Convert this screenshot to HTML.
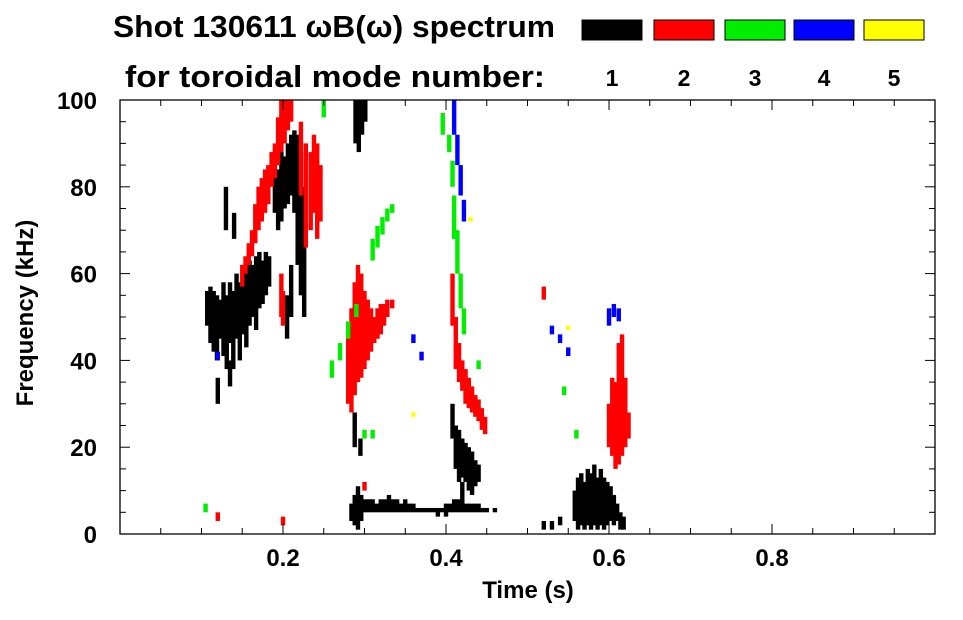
<!DOCTYPE html>
<html><head><meta charset="utf-8"><style>
body{margin:0;background:#fff;}
svg text{font-family:"Liberation Sans",sans-serif;font-weight:bold;fill:#000;}
</style></head><body>
<svg id="chart" width="963" height="615" viewBox="0 0 963 615" xmlns="http://www.w3.org/2000/svg">
<text x="113" y="37" font-size="31" textLength="442" lengthAdjust="spacingAndGlyphs">Shot 130611 ωB(ω) spectrum</text>
<text x="125" y="87" font-size="31" textLength="420" lengthAdjust="spacingAndGlyphs">for toroidal mode number:</text>
<g id="legend"></g>
<g id="marks"></g>
<g id="axes"></g>
<text x="528" y="598" font-size="24" text-anchor="middle">Time (s)</text>
<text transform="translate(33,313) rotate(-90)" font-size="24" text-anchor="middle">Frequency (kHz)</text>
</svg>
<script>
const modeLabels = ["1","2","3","4","5"];
const modeColors = ["#000000","#ff0000","#00ee00","#0000ff","#ffff00"];
const xTicks = [0.2,0.4,0.6,0.8];
const yTicks = [0,20,40,60,80,100];
// segments per mode: [time, fLow, fHigh]
const mode1 = [[0.107,48,56],[0.111,44,57],[0.115,42,56],[0.119,40,55],[0.123,45,54],[0.127,41,58],[0.131,38,55],[0.135,44,58],[0.139,38,56],[0.143,45,60],[0.147,40,58],[0.151,46,62],[0.155,43,60],[0.159,48,63],[0.163,50,62],[0.167,47,64],[0.171,52,65],[0.175,53,63],[0.179,55,65],[0.183,57,64],
[0.12,30,36],[0.13,70,80],[0.14,68,74],[0.135,40,34],
[0.19,74,86],[0.194,70,84],[0.198,72,88],[0.202,75,87],[0.206,76,90],[0.21,78,92],[0.214,74,93],[0.218,62,92],[0.222,55,88],[0.226,50,80],[0.205,45,55],[0.21,50,62],
[0.289,90,100],[0.293,88,100],[0.297,92,100],[0.301,95,100],
[0.284,3,7],[0.288,2,9],[0.292,1,11],[0.296,3,9],[0.3,5,8],[0.305,5,8],[0.31,5,8],[0.315,5,7],[0.32,5,8],[0.325,5,8],[0.33,5,9],[0.335,5,8],[0.34,5,8],[0.345,5,7],[0.35,5,8],[0.355,5,7],[0.36,5,7],[0.365,5,6],[0.37,5,6],[0.375,5,6],[0.38,5,6],[0.385,5,6],[0.39,4,6],[0.395,5,6],[0.40,4,7],[0.405,5,7],[0.41,5,8],[0.415,5,8],[0.42,5,8],[0.425,5,7],[0.43,5,7],[0.435,5,7],[0.44,5,7],[0.445,5,6],[0.45,5,6],[0.46,5,6],
[0.288,20,28],[0.295,18,22],
[0.408,22,30],[0.412,15,25],[0.416,12,24],[0.42,13,22],[0.424,12,21],[0.428,10,20],[0.432,9,19],[0.436,11,17],[0.44,12,16],[0.42,6,12],
[0.558,3,10],[0.562,1,13],[0.566,2,14],[0.57,1,12],[0.574,2,15],[0.578,1,14],[0.582,2,16],[0.586,1,13],[0.59,2,15],[0.594,1,13],[0.598,2,12],[0.602,3,11],[0.606,2,9],[0.61,3,7],[0.614,1,5],[0.618,1,4],
[0.52,1,3],[0.53,1,3],[0.54,2,4]];
const mode2 = [[0.15,57,62],[0.154,60,64],[0.158,62,67],[0.162,64,70],[0.166,67,76],[0.17,70,80],[0.174,72,82],[0.178,74,84],[0.182,76,85],[0.186,80,88],[0.19,82,90],[0.194,85,96],[0.198,88,100],[0.202,90,100],[0.206,93,100],[0.21,95,100],
[0.222,78,95],[0.228,66,90],[0.234,70,88],[0.238,74,92],[0.242,68,90],[0.246,72,85],[0.198,50,60],[0.2,48,56],
[0.28,30,48],[0.284,28,52],[0.288,32,58],[0.292,35,62],[0.296,36,60],[0.3,38,56],[0.304,40,54],[0.308,42,52],[0.312,44,50],[0.316,45,52],[0.32,46,53],[0.324,48,53],[0.328,50,54],[0.334,52,54],
[0.408,48,60],[0.412,38,50],[0.416,35,44],[0.42,33,40],[0.424,30,38],[0.428,29,36],[0.432,28,34],[0.436,27,32],[0.44,26,31],[0.444,24,29],[0.448,23,27],
[0.52,54,57],[0.6,20,30],[0.604,18,36],[0.608,15,35],[0.612,16,44],[0.616,18,46],[0.62,20,36],[0.624,22,28],
[0.12,3,5],[0.2,2,4],[0.3,10,12]];
const mode3 = [[0.26,36,40],[0.27,40,44],[0.28,45,49],[0.29,50,53],[0.31,63,68],[0.316,66,71],[0.322,69,73],[0.328,72,75],[0.334,74,76],
[0.396,92,97],[0.404,88,92],[0.408,80,86],[0.41,68,78],[0.414,60,70],[0.418,52,60],[0.422,46,52],
[0.3,22,24],[0.31,22,24],[0.44,38,40],[0.545,32,34],[0.105,5,7],[0.56,22,24],[0.25,96,100]];
const mode4 = [[0.41,92,100],[0.414,85,92],[0.418,78,85],[0.422,72,77],[0.6,48,52],[0.606,50,53],[0.612,49,52],
[0.53,46,48],[0.54,44,46],[0.55,41,43],[0.36,44,46],[0.37,40,42],[0.12,40,42]];
const mode5 = [[0.55,47,48],[0.36,27,28],[0.43,72,73]];
const series = [mode1,mode2,mode3,mode4,mode5];

const X0=120,X1=935,Y0=534,Y1=100;
const sx=t=>X0+t*(X1-X0);
const sy=f=>Y0-f/100*(Y0-Y1);
const NS="http://www.w3.org/2000/svg";
function mk(tag,attrs,parent){const e=document.createElementNS(NS,tag);for(const k in attrs)e.setAttribute(k,attrs[k]);parent.appendChild(e);return e;}

const leg=document.getElementById('legend');
modeLabels.forEach((lab,i)=>{
  const bx=[582,654,725,794,864][i];
  const r=mk('rect',{x:bx,y:20,width:60,height:20,fill:modeColors[i],stroke:'#000','stroke-width':1},leg);
  
  
  const t=mk('text',{x:bx+30,y:86,'font-size':23,'text-anchor':'middle'},leg);
  t.textContent=lab;
  
  
});

const marks=document.getElementById('marks');
series.forEach((s,i)=>{
  s.forEach(seg=>{
    const f0=Math.min(seg[1],seg[2]),f1=Math.max(seg[1],seg[2]);
    const r=mk('rect',{x:sx(seg[0])-2.2,y:sy(f1),width:4.4,height:Math.max(1.5,sy(f0)-sy(f1)),fill:modeColors[i]},marks);
    
    
  });
});

const ax=document.getElementById('axes');
const fr=mk('rect',{x:X0,y:Y1,width:X1-X0,height:Y0-Y1,fill:'none',stroke:'#000','stroke-width':1.3},ax);


for(let k=1;k<20;k++){const t=k*0.05;const len=(k%4===0)?10:6;
  mk('line',{x1:sx(t),x2:sx(t),y1:Y0,y2:Y0-len,stroke:'#000'},ax);
  mk('line',{x1:sx(t),x2:sx(t),y1:Y1,y2:Y1+len,stroke:'#000'},ax);}
for(let k=1;k<20;k++){const f=k*5;const len=(k%4===0)?10:6;
  mk('line',{x1:X0,x2:X0+len,y1:sy(f),y2:sy(f),stroke:'#000'},ax);
  mk('line',{x1:X1,x2:X1-len,y1:sy(f),y2:sy(f),stroke:'#000'},ax);}
xTicks.forEach(v=>{const t=mk('text',{x:sx(v),y:566,'font-size':24,'text-anchor':'middle'},ax);t.textContent=v.toFixed(1);
  
  });
yTicks.forEach(v=>{const t=mk('text',{x:97,y:sy(v)+9,'font-size':24,'text-anchor':'end'},ax);t.textContent=v;
  
  });
</script>
</body></html>
